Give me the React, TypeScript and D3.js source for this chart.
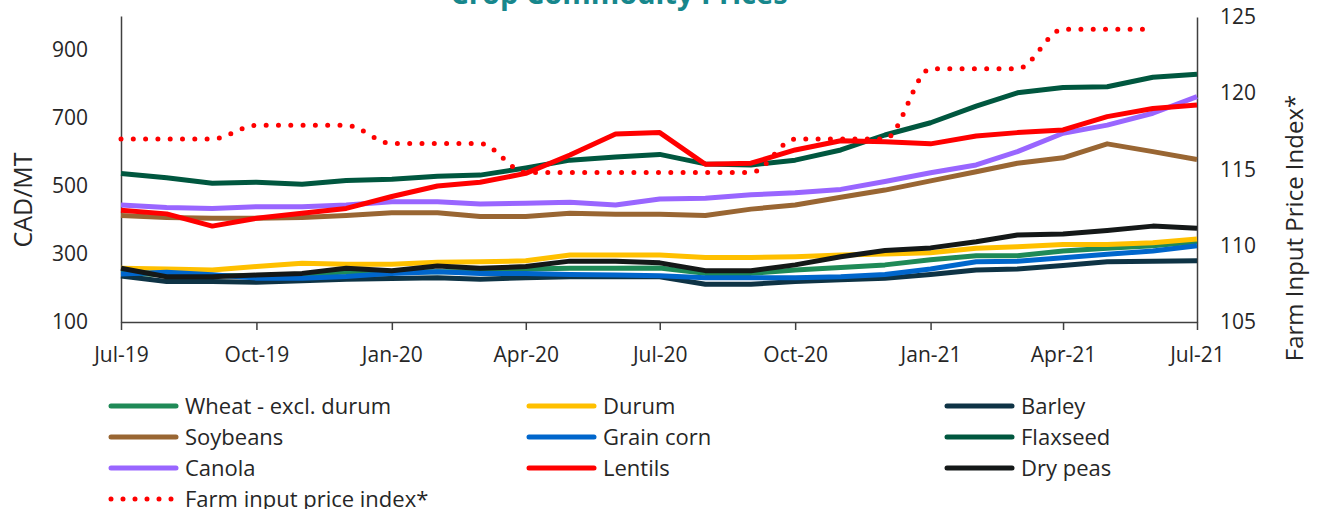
import * as d3 from "d3";
import { useRef, useEffect } from "react";

// Monthly average prices, CAD/MT (left axis)
const months = [
  "Jul-19", "Aug-19", "Sep-19", "Oct-19", "Nov-19", "Dec-19",
  "Jan-20", "Feb-20", "Mar-20", "Apr-20", "May-20", "Jun-20",
  "Jul-20", "Aug-20", "Sep-20", "Oct-20", "Nov-20", "Dec-20",
  "Jan-21", "Feb-21", "Mar-21", "Apr-21", "May-21", "Jun-21", "Jul-21",
];

const wheat = [245, 238, 236, 236, 240, 247, 246, 248, 248, 256, 258, 258, 259, 243, 243, 253, 260, 268, 283, 295, 295, 309, 317, 324, 336];
const durum = [258, 256, 253, 263, 273, 270, 270, 276, 277, 280, 297, 297, 297, 290, 290, 292, 297, 300, 304, 317, 321, 328, 328, 333, 344];
const barley = [235, 219, 219, 217, 221, 226, 228, 230, 226, 230, 233, 233, 233, 211, 211, 219, 224, 229, 240, 253, 256, 266, 277, 279, 280];
const soybeans = [413, 407, 405, 405, 407, 413, 421, 421, 410, 410, 420, 417, 417, 413, 432, 444, 467, 488, 515, 542, 567, 583, 624, 601, 578];
const grainCorn = [241, 246, 239, 229, 229, 234, 243, 248, 243, 243, 240, 238, 236, 230, 230, 230, 233, 240, 256, 277, 279, 289, 299, 309, 324];
const flaxseed = [537, 524, 508, 511, 505, 516, 520, 529, 532, 553, 576, 585, 593, 565, 562, 576, 606, 650, 686, 735, 774, 790, 792, 820, 829];
const canola = [444, 437, 434, 439, 439, 444, 454, 454, 447, 449, 452, 444, 462, 464, 474, 480, 490, 513, 539, 562, 601, 655, 679, 714, 763];
const lentils = [429, 418, 382, 405, 420, 434, 469, 500, 511, 537, 591, 653, 657, 564, 567, 606, 633, 630, 624, 647, 657, 665, 704, 728, 738];
const dryPeas = [258, 233, 233, 238, 243, 258, 251, 265, 258, 263, 279, 279, 274, 251, 251, 268, 292, 310, 318, 336, 356, 359, 369, 382, 376];

// Farm input price index (right axis), quarterly values repeated monthly, ends Jun-21
const farmInput = [117.0, 117.0, 117.0, 117.9, 117.9, 117.9, 116.7, 116.7, 116.7, 114.8, 114.8, 114.8, 114.8, 114.8, 114.8, 117.0, 117.0, 117.0, 121.6, 121.6, 121.6, 124.2, 124.2, 124.2];

const leftTicks = [100, 300, 500, 700, 900];
const rightTicks = [105, 110, 115, 120, 125];

const series = [
  { name: "Wheat - excl. durum", values: wheat, color: "#1f8a57" },
  { name: "Durum", values: durum, color: "#ffc000" },
  { name: "Barley", values: barley, color: "#0e3345" },
  { name: "Soybeans", values: soybeans, color: "#996633" },
  { name: "Grain corn", values: grainCorn, color: "#0066cc" },
  { name: "Flaxseed", values: flaxseed, color: "#00573f" },
  { name: "Canola", values: canola, color: "#9966ff" },
  { name: "Lentils", values: lentils, color: "#ff0000" },
  { name: "Dry peas", values: dryPeas, color: "#141818" },
];

const FONT = "'Open Sans', 'Noto Sans', sans-serif";
const TEXT = "#262626";

export default function App() {
  const svgRef = useRef<SVGSVGElement>(null);

  useEffect(() => {
    if (!svgRef.current) return;
    const svg = d3.select(svgRef.current);
    svg.selectAll("*").remove();

    const width = 1326;
    const height = 509;
    const left = 121;
    const right = 1197;
    const top = 17;
    const bottom = 322;

    const parse = d3.timeParse("%b-%y");
    const dates = months.map((m) => parse(m) as Date);

    const x = d3.scaleTime().domain([dates[0], dates[dates.length - 1]]).range([left, right]);
    const y = d3.scaleLinear().domain([100, 1000]).range([bottom, top - 1]);
    const y2 = d3.scaleLinear().domain([105, 125]).range([bottom, top]);

    svg.attr("width", width).attr("height", height);

    // title (cut off at the top in the original)
    svg
      .append("text")
      .attr("x", 619)
      .attr("y", 4)
      .attr("text-anchor", "middle")
      .style("font", `bold 29px ${FONT}`)
      .style("fill", "#17878c")
      .text("Crop Commodity Prices");

    // bottom axis
    const xAxis = d3
      .axisBottom(x)
      .tickValues(dates.filter((_, i) => i % 3 === 0))
      .tickFormat((d) => d3.timeFormat("%b-%y")(d as Date))
      .tickSize(8)
      .tickSizeOuter(0);
    const gx = svg.append("g").attr("transform", `translate(0,${bottom})`).call(xAxis);
    gx.selectAll("text").attr("dy", 0).attr("y", 40).style("font", `21px ${FONT}`).style("fill", TEXT);

    // left axis
    const gy = svg
      .append("g")
      .attr("transform", `translate(${left},0)`)
      .call(d3.axisLeft(y).tickValues(leftTicks).tickSize(0).tickPadding(33).tickSizeOuter(0));
    gy.selectAll("text").style("font", `21px ${FONT}`).style("fill", TEXT);

    // right axis
    const gy2 = svg
      .append("g")
      .attr("transform", `translate(${right},0)`)
      .call(d3.axisRight(y2).tickValues(rightTicks).tickSize(0).tickPadding(23).tickSizeOuter(0));
    gy2.selectAll("text").style("font", `21px ${FONT}`).style("fill", TEXT);

    svg.selectAll(".domain").attr("stroke", "#404040").attr("stroke-width", 1.5);
    svg.selectAll(".tick line").attr("stroke", "#404040").attr("stroke-width", 1.5);

    // axis titles
    svg
      .append("text")
      .attr("transform", "translate(32,200) rotate(-90)")
      .attr("text-anchor", "middle")
      .style("font", `25px ${FONT}`)
      .style("fill", TEXT)
      .text("CAD/MT");
    svg
      .append("text")
      .attr("transform", "translate(1303,228) rotate(-90)")
      .attr("text-anchor", "middle")
      .style("font", `24px ${FONT}`)
      .style("fill", TEXT)
      .text("Farm Input Price Index*");

    // commodity lines
    const line = d3
      .line<number>()
      .x((_, i) => x(dates[i]))
      .y((d) => y(d));

    svg
      .append("g")
      .selectAll("path")
      .data(series)
      .join("path")
      .attr("d", (d) => line(d.values))
      .attr("fill", "none")
      .attr("stroke", (d) => d.color)
      .attr("stroke-width", 5)
      .attr("stroke-linejoin", "round");

    // farm input index, dotted, right axis
    const line2 = d3
      .line<number>()
      .x((_, i) => x(dates[i]))
      .y((d) => y2(d))
      .curve(d3.curveMonotoneX);
    svg
      .append("path")
      .attr("d", line2(farmInput))
      .attr("fill", "none")
      .attr("stroke", "#ff0000")
      .attr("stroke-width", 5)
      .attr("stroke-linecap", "round")
      .attr("stroke-dasharray", "0 12.3");

    // legend
    const legendItems = [
      ...series.map((s) => ({ name: s.name, color: s.color, dotted: false })),
      { name: "Farm input price index*", color: "#ff0000", dotted: true },
    ];
    const colX = [108, 526, 944];
    const legend = svg
      .append("g")
      .selectAll("g")
      .data(legendItems)
      .join("g")
      .attr("transform", (_, i) => `translate(${colX[i % 3]},${406 + Math.floor(i / 3) * 31})`);
    legend
      .append("line")
      .attr("x1", 3)
      .attr("x2", 68)
      .attr("stroke", (d) => d.color)
      .attr("stroke-width", 5)
      .attr("stroke-linecap", "round")
      .attr("stroke-dasharray", (d) => (d.dotted ? "0 12" : null));
    legend
      .append("text")
      .attr("x", 77)
      .attr("dy", "0.35em")
      .style("font", `22px ${FONT}`)
      .style("fill", TEXT)
      .text((d) => d.name);

    return () => {
      svg.selectAll("*").remove();
    };
  }, []);

  return (
    <svg
      ref={svgRef}
      style={{ position: "absolute", left: 0, top: 0, display: "block", overflow: "hidden" }}
    />
  );
}
